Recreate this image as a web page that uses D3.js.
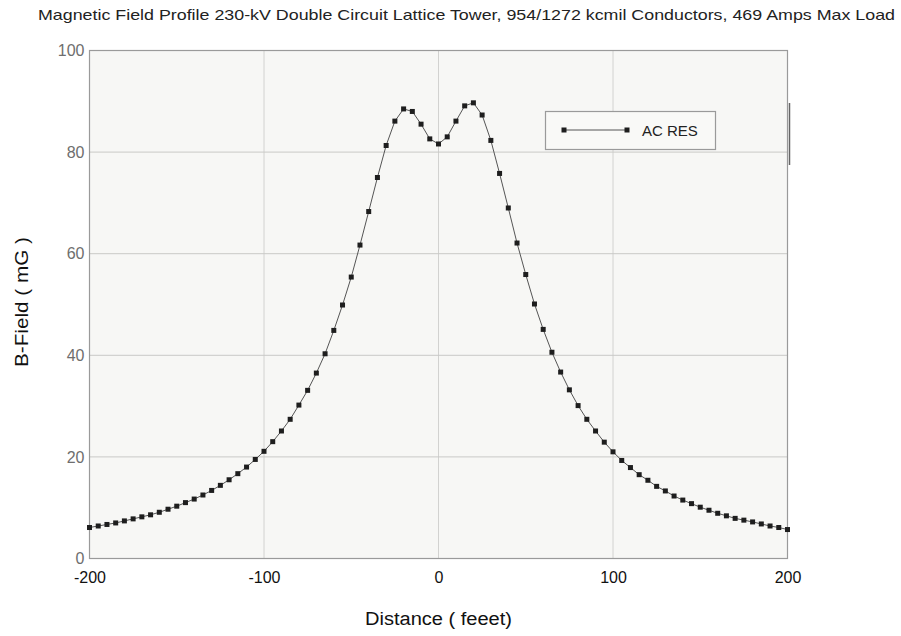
<!DOCTYPE html>
<html>
<head>
<meta charset="utf-8">
<script src="https://cdn.jsdelivr.net/npm/d3@7/dist/d3.min.js"></script>
<style>
  html, body { margin: 0; padding: 0; background: #ffffff; }
  svg { display: block; font-family: "Liberation Sans", Arial, sans-serif; }
</style>
</head>
<body>
<svg id="chart" width="901" height="636"></svg>
<script>
// Lateral distance from the centerline (feet)
const distance = d3.range(-200, 201, 5);

// Calculated magnetic field (mG), AC resistance model
const bField = [
  6.1, 6.4, 6.7, 7.0, 7.4, 7.8, 8.2, 8.6, 9.1, 9.7,
  10.3, 11.0, 11.7, 12.5, 13.4, 14.4, 15.5, 16.7, 18.0, 19.5,
  21.1, 23.0, 25.1, 27.4, 30.2, 33.1, 36.5, 40.3, 44.9, 49.9,
  55.4, 61.7, 68.3, 75.0, 81.3, 86.1, 88.5, 88.0, 85.5, 82.6,
  81.6,
  83.0, 86.1, 89.1, 89.7, 87.3, 82.3, 75.8, 69.0, 62.1, 55.9,
  50.1, 45.1, 40.6, 36.7, 33.2, 30.1, 27.4, 25.1, 22.9, 21.0,
  19.3, 17.9, 16.5, 15.4, 14.2, 13.3, 12.3, 11.5, 10.8, 10.1,
  9.5, 8.9, 8.4, 7.9, 7.55, 7.2, 6.8, 6.4, 6.1, 5.7
];

const xTicks = [-200, -100, 0, 100, 200];
const yTicks = [0, 20, 40, 60, 80, 100];
const seriesName = "AC RES";

const titleText = "Magnetic Field Profile 230-kV Double Circuit Lattice Tower, 954/1272 kcmil Conductors, 469 Amps Max Load";
const xTitle = "Distance ( feeet)";
const yTitle = "B-Field  ( mG )";

const data = distance.map((d, i) => ({ x: d, y: bField[i] }));

const svg = d3.select("#chart");
const plot = { left: 89.5, right: 787.5, top: 50.5, bottom: 558.5 };

const x = d3.scaleLinear().domain([-200, 200]).range([plot.left, plot.right]);
const y = d3.scaleLinear().domain([0, 100]).range([plot.bottom, plot.top]);

// Title (narrow, tall lettering)
svg.append("text")
  .attr("x", 38).attr("y", 20)
  .attr("font-size", 15).attr("fill", "#222")
  .attr("textLength", 857).attr("lengthAdjust", "spacingAndGlyphs")
  .text(titleText);

// Plot background
svg.append("rect")
  .attr("x", plot.left).attr("y", plot.top)
  .attr("width", plot.right - plot.left).attr("height", plot.bottom - plot.top)
  .attr("fill", "#f7f7f5");

// Gridlines
const grid = svg.append("g");
grid.selectAll(".gx").data(xTicks.filter(t => t > -200 && t < 200)).join("line")
  .attr("x1", d => x(d)).attr("x2", d => x(d))
  .attr("y1", plot.top).attr("y2", plot.bottom)
  .attr("stroke", "#d2d2d0").attr("stroke-width", 1);
grid.selectAll(".gy").data(yTicks.filter(t => t > 0 && t < 100)).join("line")
  .attr("x1", plot.left).attr("x2", plot.right)
  .attr("y1", d => y(d)).attr("y2", d => y(d))
  .attr("stroke", "#c9c9c7").attr("stroke-width", 1);

// Frame
svg.append("rect")
  .attr("x", plot.left).attr("y", plot.top)
  .attr("width", plot.right - plot.left).attr("height", plot.bottom - plot.top)
  .attr("fill", "none").attr("stroke", "#9a9a9a").attr("stroke-width", 1.2);
// darker stretch along the right edge
svg.append("line")
  .attr("x1", plot.right + 2).attr("x2", plot.right + 2)
  .attr("y1", 103).attr("y2", 165)
  .attr("stroke", "#666").attr("stroke-width", 1.5);

// Axes
const xAxis = d3.axisBottom(x).tickValues(xTicks).tickSize(0).tickPadding(13).tickFormat(d => String(d));
svg.append("g")
  .attr("transform", `translate(0,${plot.bottom})`)
  .call(xAxis)
  .call(g => g.select(".domain").remove())
  .call(g => g.selectAll("text").attr("font-size", 16).attr("fill", "#111")
    .attr("font-family", "Liberation Sans, Arial, sans-serif"));

const yAxis = d3.axisLeft(y).tickValues(yTicks).tickSize(0).tickPadding(5).tickFormat(d => String(d));
svg.append("g")
  .attr("transform", `translate(${plot.left},0)`)
  .call(yAxis)
  .call(g => g.select(".domain").remove())
  .call(g => g.selectAll("text").attr("font-size", 16).attr("fill", "#6e6e6e")
    .attr("font-family", "Liberation Sans, Arial, sans-serif"));

// Axis titles
svg.append("text")
  .attr("x", 438.5).attr("y", 625)
  .attr("text-anchor", "middle")
  .attr("font-size", 18).attr("fill", "#111")
  .attr("textLength", 147).attr("lengthAdjust", "spacingAndGlyphs")
  .text(xTitle);

svg.append("text")
  .attr("transform", "translate(28,302) rotate(-90)")
  .attr("text-anchor", "middle")
  .attr("font-size", 18).attr("fill", "#111")
  .attr("textLength", 130).attr("lengthAdjust", "spacingAndGlyphs")
  .text(yTitle);

// Series line
const line = d3.line().x(d => x(d.x)).y(d => y(d.y));
svg.append("path")
  .datum(data)
  .attr("d", line)
  .attr("fill", "none")
  .attr("stroke", "#555")
  .attr("stroke-width", 1);

// Square markers
const ms = 5;
svg.append("g").selectAll("rect").data(data).join("rect")
  .attr("x", d => x(d.x) - ms / 2).attr("y", d => y(d.y) - ms / 2)
  .attr("width", ms).attr("height", ms)
  .attr("fill", "#1e1e1e");

// Legend
const lg = svg.append("g");
lg.append("rect")
  .attr("x", 545.5).attr("y", 111.5).attr("width", 170).attr("height", 38)
  .attr("fill", "#f9f9f7").attr("stroke", "#9a9a9a").attr("stroke-width", 1.2);
lg.append("line")
  .attr("x1", 564).attr("x2", 627).attr("y1", 130).attr("y2", 130)
  .attr("stroke", "#555").attr("stroke-width", 1);
[564, 627].forEach(px => {
  lg.append("rect")
    .attr("x", px - ms / 2).attr("y", 130 - ms / 2)
    .attr("width", ms).attr("height", ms).attr("fill", "#1e1e1e");
});
lg.append("text")
  .attr("x", 642).attr("y", 135.5)
  .attr("font-size", 15).attr("fill", "#222")
  .text(seriesName);
</script>
</body>
</html>
